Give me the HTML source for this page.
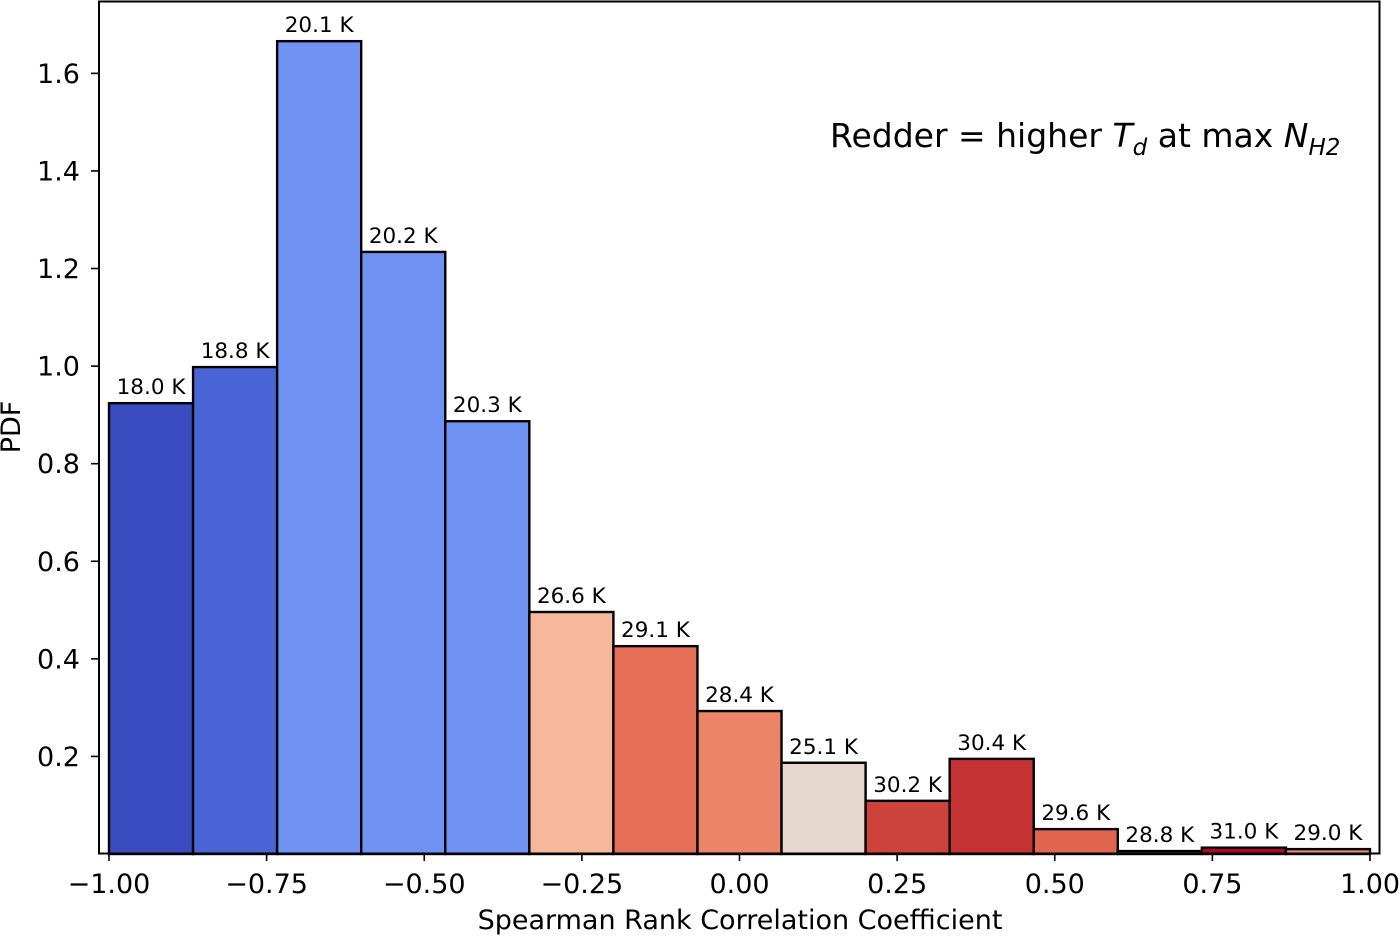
<!DOCTYPE html>
<html><head><meta charset="utf-8"><style>
html,body{margin:0;padding:0;background:#fff;}
svg{display:block;font-family:"DejaVu Sans","Liberation Sans",sans-serif;}
</style></head><body>
<svg id="chart" width="1400" height="936" viewBox="0 0 1400 936" xmlns="http://www.w3.org/2000/svg">
<g id="bars"></g>
<g id="labels"></g>
<rect x="99" y="1.5" width="1280.5" height="852" fill="none" stroke="#000" stroke-width="2"/>
<g id="xticks"></g>
<g id="yticks"></g>
<text x="740" y="929" font-size="27" text-anchor="middle">Spearman Rank Correlation Coefficient</text>
<text transform="translate(20,427) rotate(-90)" font-size="27" text-anchor="middle">PDF</text>
<text x="830" y="147" font-size="33">Redder = higher <tspan font-style="italic">T</tspan><tspan font-style="italic" font-size="23" dy="8">d</tspan><tspan dy="-8"> at max </tspan><tspan font-style="italic">N</tspan><tspan font-style="italic" font-size="23" dy="8">H2</tspan></text>
</svg>
<script>
const binEdgesStart = -1;
const binWidth = 2/15;
const pdfValues = [0.924, 0.998, 1.666, 1.234, 0.887, 0.496, 0.426, 0.293, 0.187, 0.109, 0.195, 0.051, 0.006, 0.013, 0.010];
const tempLabels = ["18.0 K","18.8 K","20.1 K","20.2 K","20.3 K","26.6 K","29.1 K","28.4 K","25.1 K","30.2 K","30.4 K","29.6 K","28.8 K","31.0 K","29.0 K"];
const barColors = ["#3b4cc0","#4b64d5","#7093f3","#7093f3","#7093f3","#f5b89b","#e46e56","#ec8468","#e6d7cf","#cd423b","#c63234","#e0654f","#d95847","#b40426","#f08b6e"];
const xTicks = [-1,-0.75,-0.5,-0.25,0,0.25,0.5,0.75,1];
const xTickLabels = ["\u22121.00","\u22120.75","\u22120.50","\u22120.25","0.00","0.25","0.50","0.75","1.00"];
const yTicks = [0.2,0.4,0.6,0.8,1.0,1.2,1.4,1.6];
const yTickLabels = ["0.2","0.4","0.6","0.8","1.0","1.2","1.4","1.6"];

const NS="http://www.w3.org/2000/svg";
const xS = v => 739.5 + v*630.5;
const yS = v => 854 - v*487.9;
function mk(tag, attrs, parent){const e=document.createElementNS(NS,tag);for(const k in attrs)e.setAttribute(k,attrs[k]);parent.appendChild(e);return e;}
const gB=document.getElementById('bars'), gL=document.getElementById('labels');
pdfValues.forEach((v,i)=>{
  const x0=xS(binEdgesStart+i*binWidth), x1=xS(binEdgesStart+(i+1)*binWidth);
  const r=mk('rect',{x:x0,y:yS(v),width:x1-x0,height:yS(0)-yS(v),fill:barColors[i],stroke:'#000','stroke-width':2.4},gB);
  
  
  const t=mk('text',{x:(x0+x1)/2,y:yS(v)-9,'font-size':21.5,'text-anchor':'middle'},gL);
  t.textContent=tempLabels[i];
  
  
});
const gX=document.getElementById('xticks');
xTicks.forEach((v,i)=>{
  mk('line',{x1:xS(v),x2:xS(v),y1:853,y2:861,stroke:'#000','stroke-width':1.6},gX);
  const t=mk('text',{x:xS(v),y:893,'font-size':27,'text-anchor':'middle'},gX);
  t.textContent=xTickLabels[i];
  
  
});
const gY=document.getElementById('yticks');
yTicks.forEach((v,i)=>{
  mk('line',{x1:91,x2:99,y1:yS(v),y2:yS(v),stroke:'#000','stroke-width':1.6},gY);
  const t=mk('text',{x:80,y:yS(v)+9.5,'font-size':27,'text-anchor':'end'},gY);
  t.textContent=yTickLabels[i];
  
  
});
</script>
</body></html>
